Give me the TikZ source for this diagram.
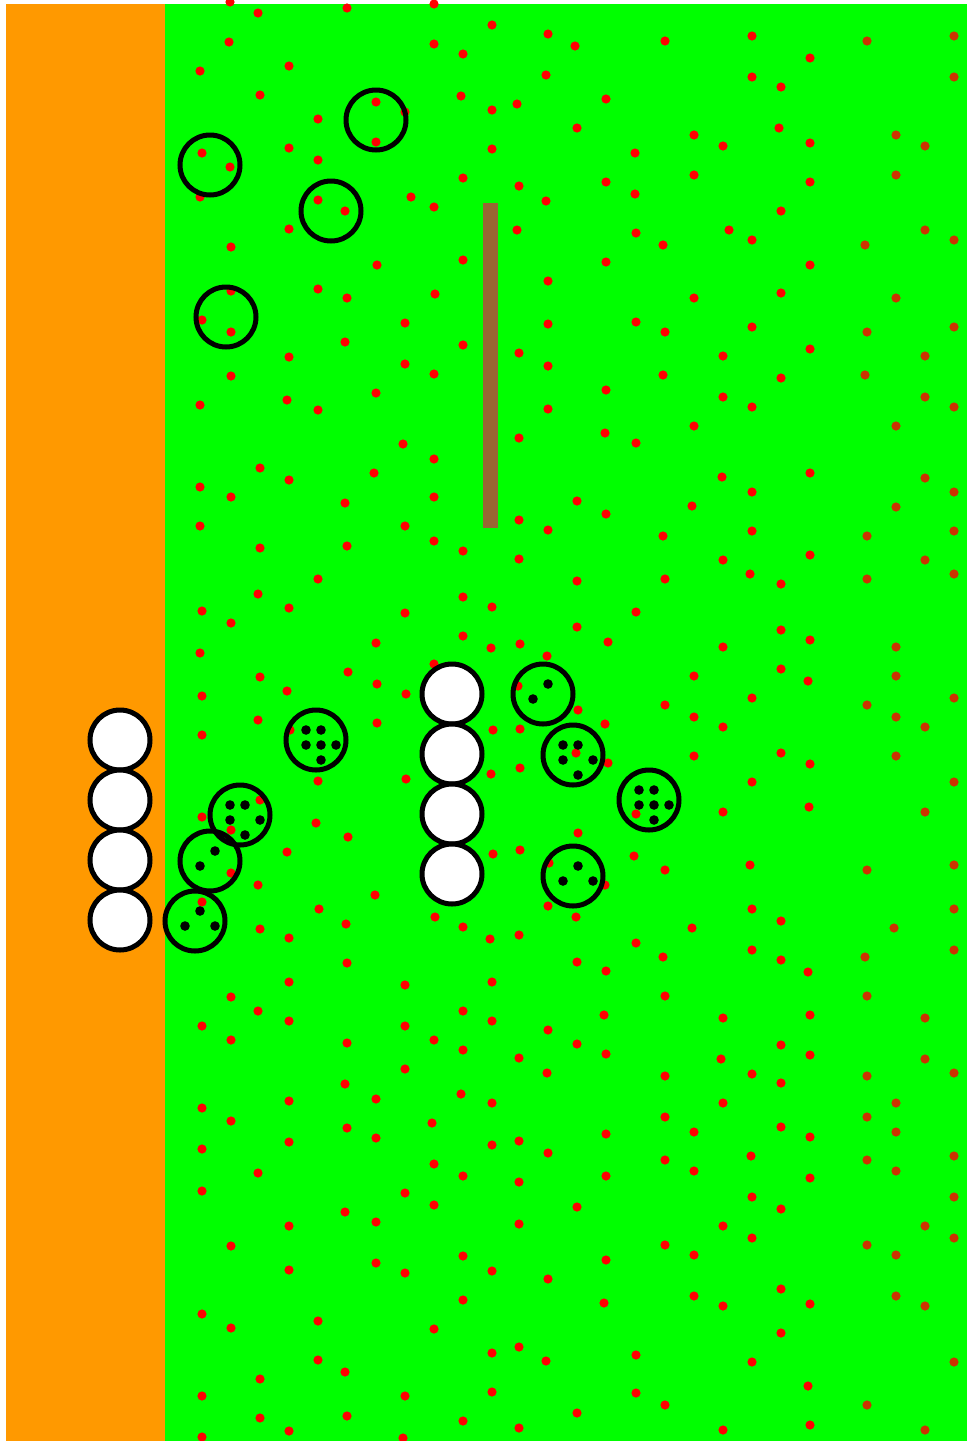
\documentclass[tikz,border=0pt]{standalone}
\definecolor{sandorange}{RGB}{255,153,0}
\definecolor{fieldgreen}{RGB}{0,255,0}
\definecolor{seedred}{RGB}{255,0,0}
\definecolor{seeddark}{RGB}{204,51,0}
\definecolor{stickbrown}{RGB}{153,102,51}
\usetikzlibrary{positioning}

\begin{document}
\begin{tikzpicture}[x=0.5pt, y=-0.5pt,
  cell/.style={circle, draw=black, line width=2.5pt, minimum size=30pt, inner sep=0pt},
  whitecell/.style={cell, fill=white},
  seed/.style={fill=seedred},
  darkseed/.style={fill=seeddark},
  grain/.style={fill=black}]
  \useasboundingbox (0,0) rectangle (967,1441);
  \fill[sandorange] (6,4) rectangle (165,1441);
  \fill[fieldgreen] (165,4) rectangle (967,1441);

  % scattered seeds
  \foreach \x/\y in {230/2,258/13,347/8,434/4,492/25,548/34,575/46,665/41,752/36,229/42,200/71,289/66,434/44,463/54,546/75,752/77,781/87,810/58,260/95,461/96,
    376/102,405/112,492/110,517/104,606/99,318/119,577/128,694/135,779/128,376/142,492/149,723/146,810/143,202/153,289/148,635/153,318/160,230/167,694/175,463/178,606/182,810/182,519/186,635/194,200/197,411/197,318/200,546/201,
    345/211,434/207,781/211,289/229,517/230,729/230,636/233,752/240,231/247,663/245,463/260,377/265,606/262,810/265,548/281,318/289,231/291,435/294,781/293,347/298,694/298,
    202/320,231/332,405/323,548/324,636/322,752/327,665/332,345/342,463/345,519/353,289/357,723/356,405/364,548/366,810/349,231/376,434/374,663/375,781/378,376/393,606/390,287/400,723/397,200/405,318/410,548/409,752/407,
    694/426,605/433,519/438,403/444,636/443,434/459,260/468,289/480,374/473,810/473,722/477,200/487,231/497,434/497,752/492,
    345/503,577/501,692/506,606/514,405/526,200/526,519/520,548/530,752/531,434/541,663/536,260/548,347/546,463/551,519/559,723/560,810/555,750/574,665/579,577/581,781/584,318/579,
    258/594,202/611,289/608,463/597,492/607,405/613,636/612,231/623,577/627,781/630,463/636,810/640,376/643,
    200/653,260/677,348/672,202/696,287/691,377/684,406/694,434/664,258/720,377/723,202/735,290/730,318/781,406/779,260/800,202/817,316/823,231/830,348/837,287/852,231/873,258/885,375/895,202/902,319/909,346/924,435/917,260/929,289/938,
    491/648,520/644,608/642,547/656,518/686,694/676,578/710,605/724,665/705,694/717,493/730,520/729,576/753,608/763,694/756,520/768,491/774,636/814,578/833,493/854,520/850,634/856,665/870,549/863,605/885,548/906,576/917,463/927,490/939,519/935,
    723/647,781/669,808/681,752/698,723/727,781/753,810/764,752/782,809/807,723/812,750/865,752/909,781/921,692/928,
    636/943,663/957,347/963,577/962,606/971,752/950,781/960,808/972,231/997,289/982,405/985,492/982,665/996,
    202/1026,258/1011,289/1021,463/1011,492/1021,604/1015,723/1018,810/1015,231/1040,347/1043,405/1026,434/1040,548/1030,577/1044,463/1050,519/1058,606/1054,721/1059,781/1045,810/1055,405/1069,547/1073,665/1076,752/1074,345/1084,781/1083,376/1099,289/1101,461/1094,492/1103,202/1108,723/1103,
    231/1121,432/1123,665/1117,347/1128,376/1138,289/1142,202/1149,492/1145,519/1141,548/1153,606/1134,694/1132,781/1127,810/1137,751/1156,434/1164,463/1176,258/1173,665/1160,606/1176,694/1171,519/1182,810/1178,202/1191,405/1193,752/1197,
    434/1205,577/1207,781/1209,345/1212,376/1222,289/1226,519/1224,723/1226,231/1246,665/1245,752/1238,694/1255,463/1256,606/1260,376/1263,405/1273,289/1270,492/1271,548/1279,781/1289,463/1300,604/1303,694/1296,723/1306,810/1304,
    202/1314,231/1328,318/1321,434/1329,781/1333,492/1353,519/1347,546/1361,636/1355,318/1360,345/1372,752/1362,260/1379,808/1386,202/1396,405/1396,492/1392,636/1393,665/1405,260/1418,202/1437,289/1431,347/1416,403/1438,463/1421,519/1428,577/1413,723/1430,810/1425}
    \fill[seed] (\x,\y) circle[radius=2.3pt];
  \foreach \x/\y in {867/41,954/36,954/77,896/135,925/146,896/175,925/230,954/240,865/245,896/298,
    954/327,867/332,925/356,865/375,925/397,954/407,896/426,925/478,954/492,
    896/507,954/531,867/536,925/560,954/574,867/579,896/647,896/676,954/698,867/705,896/717,925/727,896/756,954/782,925/812,954/865,867/870,954/909,894/928,
    865/957,954/950,867/996,925/1018,925/1059,954/1073,867/1076,896/1103,867/1117,896/1132,954/1156,867/1160,896/1171,954/1197,
    925/1226,867/1245,954/1238,896/1255,896/1296,925/1306,954/1362,867/1405,925/1430}
    \fill[darkseed] (\x,\y) circle[radius=2.3pt];

  \fill[stickbrown] (483,203) rectangle (498,528);

  % empty cells
  \node[cell] (e1) at (210,165) {};
  \node[cell] (e2) at (376,120) {};
  \node[cell] (e3) at (331,211) {};
  \node[cell] (e4) at (226,317) {};

  % loaded cells
  \node[cell] (l1) at (316,740) {};
  \node[cell] (l2) at (240,815) {};
  \node[cell] (l3) at (210,861) {};
  \node[cell] (l4) at (195,921) {};
  \node[cell] (l5) at (543,694) {};
  \node[cell] (l6) at (573,755) {};
  \node[cell] (l7) at (649,800) {};
  \node[cell] (l8) at (573,876) {};
  \foreach \x/\y in {306/730,321/730,306/745,321/745,336/745,321/760,
    230/805,245/805,230/820,260/820,245/835,
    215/851,200/866,
    200/911,185/926,215/926,
    548/684,533/699,
    563/745,578/745,563/760,593/760,578/775,
    639/790,654/790,639/805,654/805,669/805,654/820,
    578/866,563/881,593/881}
    \fill[grain] (\x,\y) circle[radius=2.4pt];

  % white cells
  \node[whitecell] (a1) at (120,740) {};
  \node[whitecell, below=-2.5pt of a1] (a2) {};
  \node[whitecell, below=-2.5pt of a2] (a3) {};
  \node[whitecell, below=-2.5pt of a3] (a4) {};
  \node[whitecell] (b1) at (452,694) {};
  \node[whitecell, below=-2.5pt of b1] (b2) {};
  \node[whitecell, below=-2.5pt of b2] (b3) {};
  \node[whitecell, below=-2.5pt of b3] (b4) {};
\end{tikzpicture}
\end{document}
